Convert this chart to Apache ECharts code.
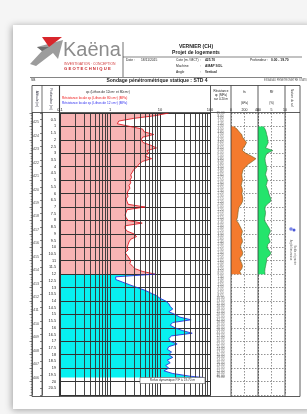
<!DOCTYPE html>
<html>
<head>
<meta charset="utf-8">
<script src="https://cdn.jsdelivr.net/npm/echarts@6/dist/echarts.min.js"></script>
<style>
html, body { margin: 0; padding: 0; background: #f5f5f5; }
#main { width: 307px; height: 414px; }
</style>
</head>
<body>
<div id="main"></div>
<script>
// profondeurs de mesure (m), pas de 0.20 m jusqu'au refus
const depth = [0, 0.2, 0.4, 0.6, 0.8, 1, 1.2, 1.4, 1.6, 1.8,
  2, 2.2, 2.4, 2.6, 2.8, 3, 3.2, 3.4, 3.6, 3.8,
  4, 4.2, 4.4, 4.6, 4.8, 5, 5.2, 5.4, 5.6, 5.8,
  6, 6.2, 6.4, 6.6, 6.8, 7, 7.2, 7.4, 7.6, 7.8,
  8, 8.2, 8.4, 8.6, 8.8, 9, 9.2, 9.4, 9.6, 9.8,
  10, 10.2, 10.4, 10.6, 10.8, 11, 11.2, 11.4, 11.6, 11.8,
  12, 12.2, 12.4, 12.6, 12.8, 13, 13.2, 13.4, 13.6, 13.8,
  14, 14.2, 14.4, 14.6, 14.8, 15, 15.2, 15.4, 15.6, 15.8,
  16, 16.2, 16.4, 16.6, 16.8, 17, 17.2, 17.4, 17.6, 17.8,
  18, 18.2, 18.4, 18.6, 18.8, 19, 19.2, 19.4, 19.6, 19.7];

// résistance de pointe qc (MPa)
const qc = [15, 8, 3, 1.5, 1.4, 2.5, 4.5, 4.8, 7.5, 4.5,
  4.2, 4.6, 6.5, 8.5, 5.5, 6.0, 5.0, 6.8, 4.5, 3.8,
  3.5, 3.0, 2.8, 2.6, 2.7, 2.5, 2.6, 2.4, 2.5, 2.3,
  2.2, 2.3, 2.1, 2.2, 2.3, 5.0, 2.2, 2.1, 2.0, 2.1,
  2.3, 4.4, 2.0, 2.0, 2.2, 3.0, 3.4, 2.6, 2.4, 2.3,
  2.2, 2.3, 2.0, 2.2, 2.4, 2.6, 2.5, 2.8, 3.2, 4.5,
  8.0, 1.3, 1.3, 1.8, 2.5, 3.5, 5, 6.5, 8.5, 10,
  13, 15, 16, 18, 15, 20, 25, 42, 18, 16,
  20, 28, 44, 17, 15, 16, 22, 15, 14, 17,
  15, 18, 14, 16, 13, 15, 12, 18, 40, 75];

// index de la limite de couche (12.0 m) : lithos 80 cm2 au-dessus, 12 cm2 en dessous
const layerIdx = 60;

// frottement latéral fs (kPa) et rapport Rf (%) de 1.0 m à 12.0 m
const fsStart = 5;
const fs = [40, 90, 120, 160, 170, 200, 230, 210, 180, 170,
  220, 300, 370, 320, 260, 220, 180, 170, 160, 165,
  170, 160, 150, 165, 170, 160, 170, 175, 170, 150,
  120, 110, 105, 100, 95, 80, 110, 130, 150, 170,
  160, 150, 165, 170, 150, 140, 160, 175, 165, 130,
  140, 160, 170, 160, 130, 150];
const rf = [2.0, 2.6, 3.0, 3.2, 3.5, 3.6, 3.8, 3.3, 2.8, 5.5,
  3.4, 2.8, 2.6, 2.7, 2.9, 3.2, 3.3, 3.0, 2.8, 3.2,
  3.5, 3.3, 3.0, 3.4, 3.8, 4.0, 4.4, 4.8, 4.6, 3.4,
  2.6, 2.6, 2.8, 2.7, 2.5, 2.4, 3.0, 3.6, 4.2, 4.6,
  4.2, 3.8, 4.2, 4.5, 3.6, 3.4, 4.0, 4.8, 4.4, 3.2,
  3.2, 3.0, 2.8, 2.6, 2.5, 2.6];

const cote = 425.70;
const altitudes = [425, 424, 423, 422, 421, 420, 419, 418, 417, 416,
  415, 414, 413, 412, 411, 410, 409, 408, 407, 406];
const logMinor = [0.2, 0.3, 0.4, 0.5, 0.6, 0.7, 0.8, 0.9,
  2, 3, 4, 5, 6, 7, 8, 9, 20, 30, 40, 50, 60, 70, 80, 90];

const FONT = 'Liberation Sans, Arial, sans-serif';

const pts = (xs, ds) => xs.map((v, i) => [v, ds[i]]);
const redX = qc.slice(0, layerIdx + 1), redD = depth.slice(0, layerIdx + 1);
const blueX = qc.slice(layerIdx), blueD = depth.slice(layerIdx);
const fsD = depth.slice(fsStart, fsStart + fs.length);

function fillItem(xs, ds, base, color) {
  return function (params, api) {
    const p = [api.coord([base, ds[0]])];
    for (let i = 0; i < xs.length; i++) p.push(api.coord([xs[i], ds[i]]));
    p.push(api.coord([base, ds[ds.length - 1]]));
    return { type: 'polygon', shape: { points: p }, style: { fill: color } };
  };
}

function T(x, y, text, size, o) {
  o = o || {};
  return {
    type: 'text', x: x, y: y, rotation: o.rot || 0, z: 20,
    style: {
      text: text, fill: o.color || '#222', textAlign: o.align || 'left',
      textVerticalAlign: 'middle',
      font: (o.bold ? 'bold ' : '') + size + 'px ' + FONT
    }
  };
}
function L(x1, y1, x2, y2, w) {
  return { type: 'line', z: 20, shape: { x1: x1, y1: y1, x2: x2, y2: y2 },
    style: { stroke: '#333', lineWidth: w || 0.8 } };
}

const TOP = 113, H = 282;
const yBase = { type: 'value', min: 0, max: 21, inverse: true, interval: 1,
  axisLabel: { show: false }, axisLine: { show: false }, axisTick: { show: false },
  splitLine: { show: false } };
const xHidden = { type: 'value', min: 0, max: 1, show: false };

let myChart = echarts.init(document.getElementById('main'));
myChart.setOption({
  animation: false,
  backgroundColor: '#f5f5f5',
  grid: [
    { left: 32, top: TOP, width: 10, height: H },
    { left: 42, top: TOP, width: 17, height: H },
    { left: 60, top: TOP, width: 150, height: H },
    { left: 210, top: TOP, width: 21, height: H },
    { left: 231, top: TOP, width: 27, height: H },
    { left: 258, top: TOP, width: 27, height: H }
  ],
  xAxis: [
    Object.assign({ gridIndex: 0 }, xHidden),
    Object.assign({ gridIndex: 1 }, xHidden),
    { gridIndex: 2, type: 'log', logBase: 10, min: 0.1, max: 100, position: 'top', z: 2,
      axisLine: { show: false }, axisTick: { show: false },
      axisLabel: { fontSize: 4, margin: 1, color: '#222', fontFamily: FONT },
      splitLine: { show: true, lineStyle: { color: '#333', width: 1 } } },
    Object.assign({ gridIndex: 3 }, xHidden),
    { gridIndex: 4, type: 'value', min: 0, max: 400, interval: 200, position: 'top',
      axisLine: { show: false }, axisTick: { show: false },
      axisLabel: { fontSize: 3.5, margin: 1, color: '#222', fontFamily: FONT },
      splitLine: { show: true, lineStyle: { color: '#666', width: 0.7, type: [1.5, 1.5] } } },
    { gridIndex: 5, type: 'value', min: 0, max: 10, interval: 5, position: 'top',
      axisLine: { show: false }, axisTick: { show: false },
      axisLabel: { fontSize: 3.5, margin: 1, color: '#222', fontFamily: FONT },
      splitLine: { show: true, lineStyle: { color: '#666', width: 0.7, type: [1.5, 1.5] } } }
  ],
  yAxis: [
    Object.assign({}, yBase, { gridIndex: 0, position: 'right',
      axisLine: { show: true, lineStyle: { color: '#333', width: 0.7 } },
      axisTick: { show: true, inside: true, length: 2.5, lineStyle: { color: '#333', width: 0.6 } },
      minorTick: { show: true, splitNumber: 5, length: 1.3, lineStyle: { color: '#444', width: 0.5 } } }),
    Object.assign({}, yBase, { gridIndex: 1, position: 'right', interval: 0.5,
      axisLine: { show: true, lineStyle: { color: '#333', width: 0.7 } },
      axisTick: { show: true, inside: true, length: 2, lineStyle: { color: '#333', width: 0.6 } },
      axisLabel: { show: true, inside: true, margin: 3, fontSize: 3.8, color: '#222', fontFamily: FONT,
        formatter: v => (v === 0 || v === 21) ? '' : String(v) } }),
    Object.assign({}, yBase, { gridIndex: 2, z: 2,
      splitLine: { show: true, lineStyle: { color: '#333', width: 1 } } }),
    Object.assign({}, yBase, { gridIndex: 3 }),
    Object.assign({}, yBase, { gridIndex: 4,
      splitLine: { show: true, lineStyle: { color: '#666', width: 0.7, type: [1.5, 1.5] } } }),
    Object.assign({}, yBase, { gridIndex: 5,
      splitLine: { show: true, lineStyle: { color: '#666', width: 0.7, type: [1.5, 1.5] } } })
  ],
  series: [
    { type: 'custom', xAxisIndex: 2, yAxisIndex: 2, z: 1, silent: true,
      renderItem: fillItem(redX, redD, 0.1, '#f8b4b4'), data: [[0.1, 0]] },
    { type: 'custom', xAxisIndex: 2, yAxisIndex: 2, z: 1, silent: true,
      renderItem: fillItem(blueX, blueD, 0.1, '#08f0f0'), data: [[0.1, 12]] },
    { type: 'line', xAxisIndex: 2, yAxisIndex: 2, z: 2, data: [], silent: true,
      markLine: { silent: true, symbol: 'none', label: { show: false }, animation: false,
        lineStyle: { color: '#333', width: 0.9, type: 'solid' },
        data: logMinor.map(v => ({ xAxis: v })) } },
    { type: 'line', name: 'qc 80', xAxisIndex: 2, yAxisIndex: 2, z: 4, showSymbol: false,
      data: pts(redX, redD), lineStyle: { color: '#e01c24', width: 0.9 } },
    { type: 'line', name: 'qc 12', xAxisIndex: 2, yAxisIndex: 2, z: 4, showSymbol: false,
      data: pts(blueX, blueD), lineStyle: { color: '#2a32e0', width: 0.9 } },
    { type: 'scatter', xAxisIndex: 3, yAxisIndex: 3, symbolSize: 0, silent: true,
      data: depth.map((d, i) => [0.5, d, qc[i]]),
      label: { show: true, position: 'inside', fontSize: 3.2, color: '#444', fontFamily: FONT,
        formatter: p => p.value[2].toFixed(2) } },
    { type: 'scatter', xAxisIndex: 0, yAxisIndex: 0, symbolSize: 0, silent: true,
      data: altitudes.map(a => [0.4, +(cote - a).toFixed(2), a]),
      label: { show: true, position: 'inside', fontSize: 3.6, color: '#222', fontFamily: FONT,
        formatter: p => String(p.value[2]) } },
    { type: 'custom', xAxisIndex: 4, yAxisIndex: 4, z: 3, silent: true,
      renderItem: fillItem(fs, fsD, 0, '#f47a2e'), data: [[0, 1]] },
    { type: 'line', xAxisIndex: 4, yAxisIndex: 4, z: 4, showSymbol: false,
      data: pts(fs, fsD), lineStyle: { color: '#6e5a1c', width: 0.6 } },
    { type: 'custom', xAxisIndex: 5, yAxisIndex: 5, z: 3, silent: true,
      renderItem: fillItem(rf, fsD, 0, '#24e46c'), data: [[0, 1]] },
    { type: 'line', xAxisIndex: 5, yAxisIndex: 5, z: 4, showSymbol: false,
      data: pts(rf, fsD), lineStyle: { color: '#2a7a3a', width: 0.6 } }
  ],
  graphic: [
    // feuille
    { type: 'rect', z: -10, silent: true, shape: { x: 13, y: 25, width: 300, height: 384 },
      style: { fill: '#ffffff', shadowBlur: 7, shadowColor: 'rgba(0,0,0,0.35)', shadowOffsetX: -1, shadowOffsetY: 1 } },
    // logo
    { type: 'polygon', z: 20, shape: { points: [[30, 64], [42, 51], [37, 47], [63, 40], [58, 59], [53, 53], [36, 66]] },
      style: { fill: '#9c9c9c' } },
    { type: 'polygon', z: 21, shape: { points: [[42, 37], [62, 37], [49, 47]] }, style: { fill: '#d8262c' } },
    { type: 'polygon', z: 21, shape: { points: [[37, 47], [49, 47], [42, 51]] }, style: { fill: '#6e6e6e' } },
    T(63, 50, 'Kaëna', 20, { color: '#8c8c8c' }),
    T(64, 64, 'INVESTIGATION · CONCEPTION', 3.4, { color: '#d23a3a' }),
    T(64, 69, 'G E O T E C H N I Q U E', 4.2, { color: '#c8282c', bold: true }),
    L(123, 42, 123, 77, 0.7),
    T(196, 47, 'VERNIER (CH)', 5, { bold: true, align: 'center' }),
    T(196, 53, 'Projet de logements', 5, { bold: true, align: 'center' }),
    L(123, 57, 302, 57, 0.6),
    T(126, 60.5, 'Date :', 3.3), T(141, 60.5, '18/11/2015', 3.3),
    T(176, 60.5, 'Cote (m / MCT) :', 3.3), T(205, 60.5, '425.70', 3.3, { bold: true }),
    T(250, 60.5, 'Profondeur :', 3.3), T(271, 60.5, '0.00 - 19.70', 3.3, { bold: true }),
    T(176, 66, 'Machine', 3.3), T(200, 66, ':', 3.3), T(205, 66, 'AMAP SOL', 3.3, { bold: true }),
    T(176, 72, 'Angle', 3.3), T(200, 72, ':', 3.3), T(205, 72, 'Vertical', 3.3, { bold: true }),
    L(30, 77.5, 302, 77.5, 0.6),
    T(31, 80, 'SB', 3.2),
    T(157, 81, 'Sondage pénétrométrique statique : STD 4', 5, { bold: true, align: 'center' }),
    T(264, 80, 'ESSAI AU PENETROMETRE STATIQUE', 2.6, { color: '#555' }),
    // tableau
    { type: 'rect', z: 20, shape: { x: 32, y: 85.5, width: 268, height: 311 },
      style: { fill: 'none', stroke: '#333', lineWidth: 0.8 } },
    L(32, 112.5, 300, 112.5, 0.8),
    L(42, 85.5, 42, 396.5, 0.7), L(59.5, 85.5, 59.5, 396.5, 1.1),
    L(210.5, 85.5, 210.5, 396.5, 0.8), L(231, 85.5, 231, 396.5, 0.8),
    L(258, 85.5, 258, 396.5, 0.8), L(285, 85.5, 285, 396.5, 0.8),
    T(37, 99, 'Altitude (m)', 3.2, { rot: -Math.PI / 2, align: 'center', color: '#223' }),
    T(51, 99, 'Profondeur (m)', 3.2, { rot: -Math.PI / 2, align: 'center', color: '#223' }),
    T(108, 92, 'qc (Lithos de 12cm² et 80cm²)', 3.3, { align: 'center' }),
    T(62, 98.5, 'Résistance locale qc (Lithos de 80 cm²) (MPa)', 3.2, { color: '#ee1010' }),
    T(62, 103, 'Résistance locale qc (Lithos de 12 cm²) (MPa)', 3.2, { color: '#2a2af0' }),
    T(221, 91, 'Résistance', 3, { align: 'center' }),
    T(221, 95, 'qc (MPa)', 3, { align: 'center' }),
    T(221, 99, 'sur 0.20 m', 3, { align: 'center' }),
    T(244.5, 92, 'fs', 3.5, { align: 'center' }),
    T(244.5, 103, '(kPa)', 3, { align: 'center' }),
    T(271.5, 92, 'Rf', 3.5, { align: 'center' }),
    T(271.5, 103, '(%)', 3, { align: 'center' }),
    T(292, 98, 'Nature du sol', 3, { rot: -Math.PI / 2, align: 'center', color: '#444' }),
    // légende colonne de droite
    { type: 'circle', z: 20, shape: { cx: 291, cy: 229, r: 1.8 }, style: { fill: '#7a86e8' } },
    { type: 'circle', z: 20, shape: { cx: 294, cy: 230, r: 1.5 }, style: { fill: '#4a58d8' } },
    T(291, 250, 'Argile limoneuse', 2.8, { rot: -Math.PI / 2, align: 'center', color: '#666' }),
    T(295, 255, 'Sable et gravier', 2.8, { rot: -Math.PI / 2, align: 'center', color: '#666' }),
    // refus
    { type: 'rect', z: 20, shape: { x: 140, y: 377.5, width: 65, height: 6 },
      style: { fill: '#ffffff', stroke: '#555', lineWidth: 0.6 } },
    T(172.5, 380.6, 'Refus dynamique P.F à 19.70 m', 3.2, { align: 'center', color: '#333' })
  ]
});
</script>
</body>
</html>
